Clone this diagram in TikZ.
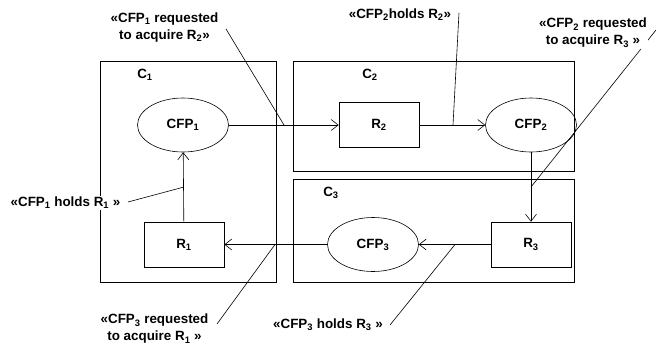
\documentclass[tikz,border=0pt]{standalone}
\usepackage{fontspec}
\setmainfont{Liberation Sans}
\usetikzlibrary{arrows.meta,shapes.geometric}

\definecolor{lockink}{HTML}{000000}

\begin{document}
\begin{tikzpicture}[
  x=1pt,y=-1pt,
  font=\bfseries\fontsize{13.4}{17}\selectfont,
  cbox/.style={draw=lockink,line width=.7pt,inner sep=0pt},
  cfp/.style={draw=lockink,ellipse,line width=.6pt,minimum width=91pt,
              minimum height=54pt,inner sep=0pt},
  res/.style={draw=lockink,line width=.7pt,minimum width=80pt,
              minimum height=45pt,inner sep=0pt},
  note/.style={align=center,fill=white,inner sep=1pt},
  flow/.style={-{Straight Barb[length=7pt,width=11pt]},line width=.6pt},
  lead/.style={line width=.6pt}
]
  % containers
  \node[cbox,minimum width=176pt,minimum height=221pt] (c1) at (188,171.5) {};
  \node[cbox,minimum width=281pt,minimum height=110pt] (c2) at (433.5,116) {};
  \node[cbox,minimum width=281pt,minimum height=103pt] (c3) at (433.5,230.5) {};
  \foreach \c in {c1,c2,c3}
    \draw[line width=1.4pt] (\c.south west) -- (\c.south east);
  \node (c1lab) at (145,75) {C\textsubscript{1}};
  \node (c2lab) at (370,75) {C\textsubscript{2}};
  \node (c3lab) at (331,193) {C\textsubscript{3}};

  % processes and resources
  \node[cfp] (cfp1) at (183,125) {CFP\textsubscript{1}};
  \node[res] (r2) at (379,125) {R\textsubscript{2}};
  \node[cfp] (cfp2) at (531,125) {CFP\textsubscript{2}};
  \node[res] (r3) at (531,244.5) {R\textsubscript{3}};
  \node[cfp] (cfp3) at (373,244.5) {CFP\textsubscript{3}};
  \node[res] (r1) at (184,244.5) {R\textsubscript{1}};

  \draw[flow] (cfp1) -- (r2);
  \draw[flow] (r2) -- (cfp2);
  \draw[flow] (cfp2) -- (r3);
  \draw[flow] (r3) -- (cfp3);
  \draw[flow] (cfp3) -- (r1);
  \draw[flow] (r1) -- (cfp1);

  % annotations
  \coordinate (p1a) at (226,29);  \coordinate (p1b) at (284,125);
  \coordinate (p2a) at (459,13);  \coordinate (p2b) at (453,125);
  \coordinate (p3a) at (656,30);  \coordinate (p3b) at (531,187);
  \coordinate (p4a) at (128,202); \coordinate (p4b) at (184,187);
  \coordinate (p5a) at (217,324); \coordinate (p5b) at (275,244.5);
  \coordinate (p6a) at (390,325); \coordinate (p6b) at (455,244.5);
  \foreach \p in {p1,p2,p3,p4,p5,p6}
    \draw[lead] (\p a) -- (\p b);

  \node[note] (n1) at (164.5,27.5)
    {«CFP\textsubscript{1} requested\\to acquire R\textsubscript{2}»};
  \node[note] (n2) at (400,15) {«CFP\textsubscript{2}holds R\textsubscript{2}»};
  \node[note] (n3) at (593,33)
    {«CFP\textsubscript{2} requested\\to acquire R\textsubscript{3} »};
  \node[note] (n4) at (65.5,203) {«CFP\textsubscript{1} holds R\textsubscript{1} »};
  \node[note] (n5) at (154.5,329)
    {«CFP\textsubscript{3} requested\\to acquire R\textsubscript{1} »};
  \node[note] (n6) at (328,325) {«CFP\textsubscript{3} holds R\textsubscript{3} »};

  \path[use as bounding box] (0,0) rectangle (657,337);
\end{tikzpicture}
\end{document}
